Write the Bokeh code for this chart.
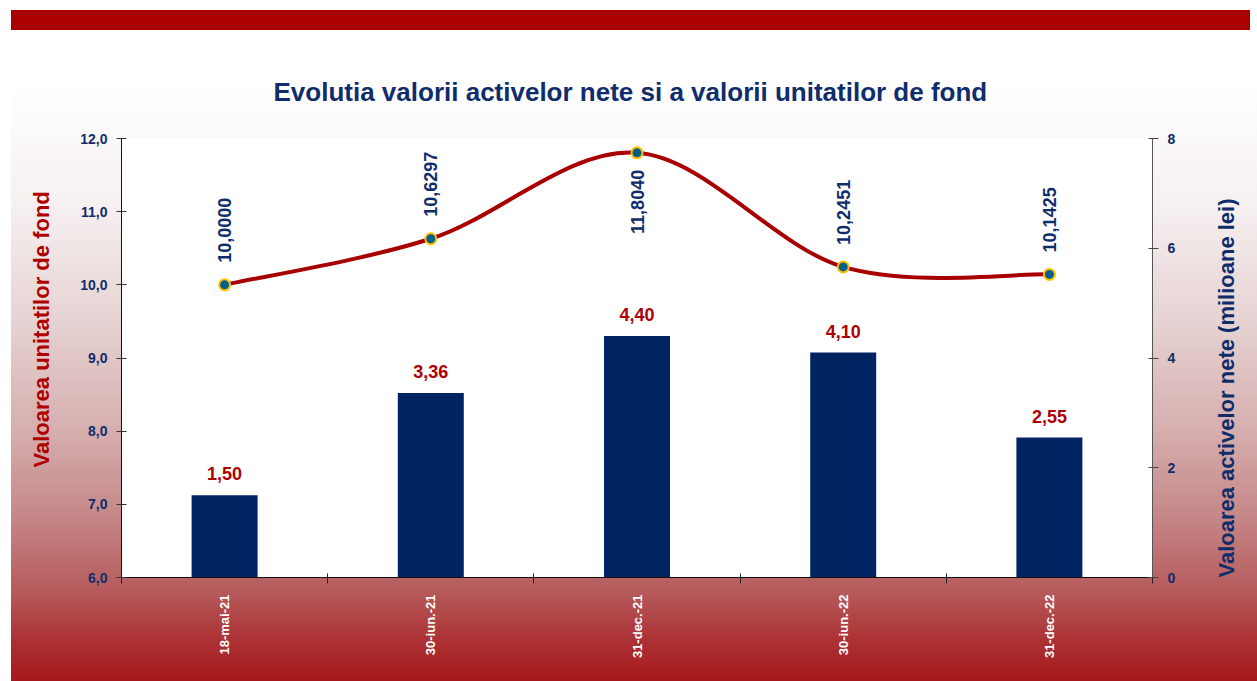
import math
from bokeh.plotting import figure
from bokeh.models import (Range1d, LinearAxis, FixedTicker, CustomJSTickFormatter,
                          GlobalInlineStyleSheet, Title)
from bokeh.core.properties import value
from bokeh.embed import file_html
from bokeh.resources import INLINE

FONT = "Liberation Sans"

# ---- data ----
dates = ["18-mai-21", "30-iun.-21", "31-dec.-21", "30-iun.-22", "31-dec.-22"]
unit_values = [10.0000, 10.6297, 11.8040, 10.2451, 10.1425]   # left axis
net_assets = [1.50, 3.36, 4.40, 4.10, 2.55]                     # right axis (milioane lei)
left_ticks = [6, 7, 8, 9, 10, 11, 12]
right_ticks = [0, 2, 4, 6, 8]
title_text = "Evolutia valorii activelor nete si a valorii unitatilor de fond"
left_title = "Valoarea unitatilor de fond"
right_title = "Valoarea activelor nete (milioane lei)"

NAVY = "#0F2D6B"
RED = "#AE0000"

n = len(dates)
xs = [i + 0.5 for i in range(n)]
edges = list(range(n + 1))
unit_labels = [f"{v:.4f}".replace(".", ",") for v in unit_values]
asset_labels = [f"{v:.2f}".replace(".", ",") for v in net_assets]

# smooth (Catmull-Rom -> Bezier) control points derived from the data
x0, y0, x1, y1, cx0, cy0, cx1, cy1 = [], [], [], [], [], [], [], []
for i in range(n - 1):
    a = i - 1 if i > 0 else i
    d = i + 2 if i + 2 < n else i + 1
    x0.append(xs[i]); y0.append(unit_values[i])
    x1.append(xs[i + 1]); y1.append(unit_values[i + 1])
    cx0.append(xs[i] + (xs[i + 1] - xs[a]) / 6)
    cy0.append(unit_values[i] + (unit_values[i + 1] - unit_values[a]) / 6)
    cx1.append(xs[i + 1] - (xs[d] - xs[i]) / 6)
    cy1.append(unit_values[i + 1] - (unit_values[d] - unit_values[i]) / 6)

css = """
html {
  background:
    linear-gradient(#AA0000, #AA0000) 11px 10px / 1239px 20px no-repeat,
    linear-gradient(to bottom, #FFFFFF 0%, #F6F0F0 20%, #E6D2D2 40%, #D6AEAE 58%,
                    #C68889 72%, #B65A5B 85%, #AC3234 93%, #A6181B 100%) 11px 85px / 1246px 596px no-repeat,
    #FFFFFF;
}
"""

p = figure(width=1257, height=681,
           x_range=Range1d(0, n), y_range=Range1d(left_ticks[0], left_ticks[-1]),
           output_backend="svg", toolbar_location=None,
           min_border_left=121, min_border_right=105, min_border_top=138, min_border_bottom=104,
           background_fill_color="white", border_fill_color=None, outline_line_color=None)
p.stylesheets = [GlobalInlineStyleSheet(css=css)]
p.extra_y_ranges = {"right": Range1d(right_ticks[0], right_ticks[-1])}
p.xgrid.visible = False
p.ygrid.visible = False

# title
p.title.text = title_text
p.title.align = "left"
p.title.offset = 152
p.title.text_font = FONT
p.title.text_font_style = "bold"
p.title.text_font_size = "26px"
p.title.text_color = NAVY
p.title.standoff = 64

# x axis
xa = p.xaxis[0]
xa.ticker = FixedTicker(ticks=xs, minor_ticks=edges)
xa.formatter = CustomJSTickFormatter(args=dict(labels=dates),
                                     code="return labels[Math.floor(tick)]")
xa.major_tick_in = 0
xa.major_tick_out = 0
xa.minor_tick_in = 4
xa.minor_tick_out = 6
xa.minor_tick_line_color = "#222222"
xa.axis_line_color = "#111111"
xa.major_label_orientation = math.pi / 2
xa.major_label_standoff = 11
xa.major_label_text_color = "white"
xa.major_label_text_font = FONT
xa.major_label_text_font_style = "bold"
xa.major_label_text_font_size = "13px"

# left axis
ya = p.yaxis[0]
ya.ticker = FixedTicker(ticks=left_ticks)
ya.formatter = CustomJSTickFormatter(code="return tick.toFixed(1).replace('.', ',')")
ya.major_tick_in = 5
ya.major_tick_out = 5
ya.minor_tick_line_color = None
ya.major_tick_line_color = "#333333"
ya.axis_line_color = "#111111"
ya.major_label_standoff = 9
ya.major_label_text_color = NAVY
ya.major_label_text_font = FONT
ya.major_label_text_font_style = "bold"
ya.major_label_text_font_size = "14px"

# left title (reads bottom-to-top)
p.add_layout(Title(text=left_title, align="left", offset=110, standoff=48,
                   text_font=FONT, text_font_style="bold", text_font_size="22px",
                   text_color=RED), "left")

# right axis
ra = LinearAxis(y_range_name="right", ticker=FixedTicker(ticks=right_ticks),
                formatter=CustomJSTickFormatter(code="return tick.toFixed(0)"))
ra.major_tick_in = 4
ra.major_tick_out = 6
ra.minor_tick_line_color = None
ra.major_tick_line_color = "#444444"
ra.axis_line_color = "#555555"
ra.major_label_standoff = 9
ra.major_label_text_color = NAVY
ra.major_label_text_font = FONT
ra.major_label_text_font_style = "bold"
ra.major_label_text_font_size = "14px"
ra.axis_label = right_title
ra.axis_label_text_color = NAVY
ra.axis_label_text_font = FONT
ra.axis_label_text_font_style = "bold"
ra.axis_label_text_font_size = "22px"
ra.axis_label_standoff = 48
ra.axis_label_orientation = math.pi / 2
ra.axis_label_align = "start"
p.add_layout(ra, "right")

# bars (net assets)
p.vbar(x=xs, top=net_assets, bottom=0, width=0.32, y_range_name="right",
       fill_color="#002462", line_color=None)
p.text(x=xs, y=net_assets, text=asset_labels, y_range_name="right",
       y_offset=-15, text_align="center", text_baseline="bottom",
       text_font=value(FONT), text_font_style="bold", text_font_size="18px",
       text_color=RED)

# smoothed line (unit value)
p.bezier(x0=x0, y0=y0, x1=x1, y1=y1, cx0=cx0, cy0=cy0, cx1=cx1, cy1=cy1,
         line_color="#A80000", line_width=4)
p.scatter(x=xs, y=unit_values, size=11, marker="circle",
          fill_color="#00608C", line_color="#FFC000", line_width=2)

imax = unit_values.index(max(unit_values))
up = [i for i in range(n) if i != imax]
p.text(x=[xs[i] for i in up], y=[unit_values[i] for i in up], text=[unit_labels[i] for i in up],
       angle=math.pi / 2, y_offset=-22, text_align="left", text_baseline="middle",
       text_font=value(FONT), text_font_style="bold", text_font_size="18px", text_color=NAVY)
p.text(x=[xs[imax]], y=[unit_values[imax]], text=[unit_labels[imax]],
       angle=math.pi / 2, y_offset=17, text_align="right", text_baseline="middle",
       text_font=value(FONT), text_font_style="bold", text_font_size="18px", text_color=NAVY)

open("out.html", "w").write(file_html(p, INLINE))
